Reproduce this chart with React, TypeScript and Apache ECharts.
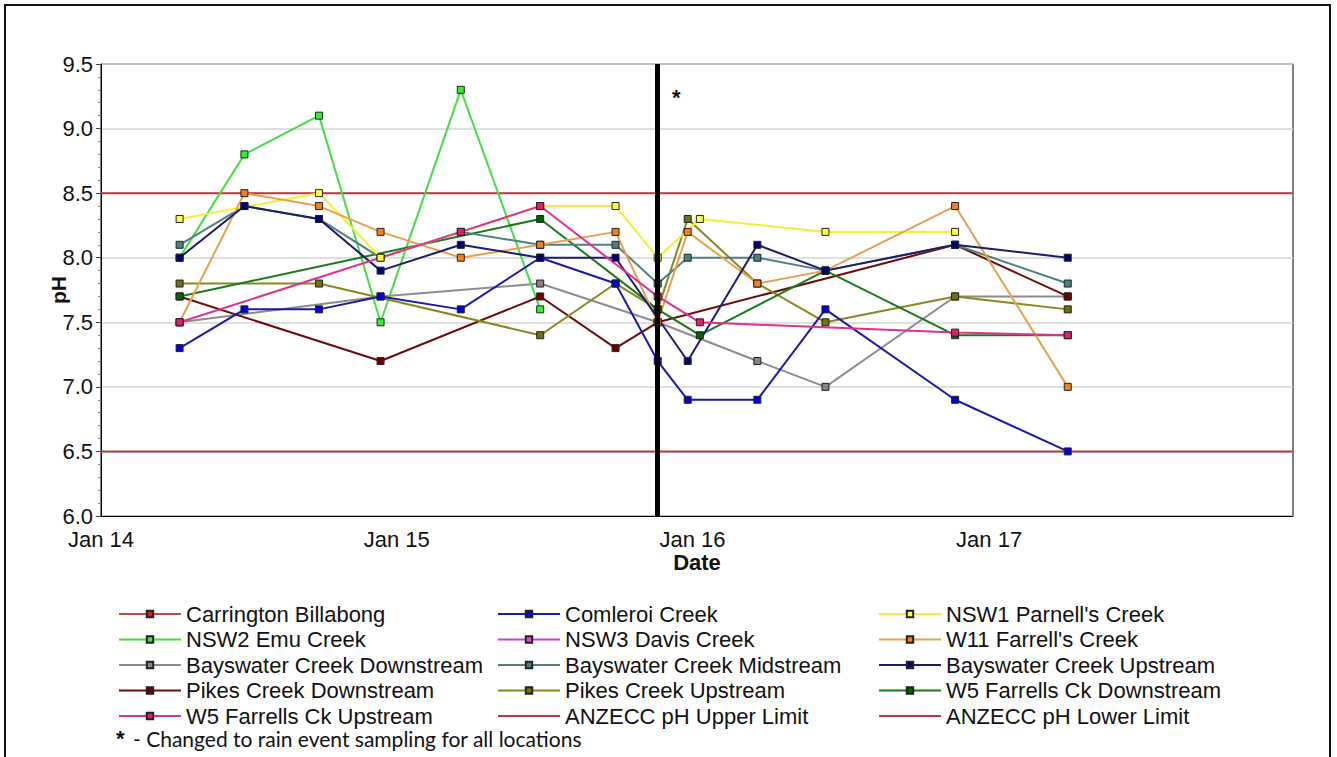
import React, { useEffect, useRef } from "react";
import * as echarts from "echarts";

// Sampling dates (x positions of the sampling rounds)
const sampleDates = [
  "2014-04-08", "2014-06-27", "2014-09-27", "2014-12-12", "2015-03-21",
  "2015-06-27", "2015-09-28", "2015-11-19", "2015-12-26", "2016-01-10",
  "2016-03-21", "2016-06-13", "2016-11-20", "2017-04-08",
];

// pH values per location (null = not sampled)
const carringtonBillabong: (number | null)[] = [];
const comleroiCreek = [7.3, 7.6, 7.6, 7.7, 7.6, 8.0, 7.8, 7.2, 6.9, null, 6.9, 7.6, 6.9, 6.5];
const nsw1Parnells = [8.3, null, 8.5, 8.0, null, 8.4, 8.4, 8.0, null, 8.3, null, 8.2, 8.2, null];
const nsw2Emu = [8.0, 8.8, 9.1, 7.5, 9.3, 7.6, null, null, null, null, null, null, null, null];
const nsw3Davis: (number | null)[] = [];
const w11Farrells = [7.5, 8.5, 8.4, 8.2, 8.0, 8.1, 8.2, 7.5, 8.2, null, 7.8, 7.9, 8.4, 7.0];
const bayswaterDown = [7.5, null, null, 7.7, null, 7.8, null, 7.5, null, null, 7.2, 7.0, 7.7, 7.7];
const bayswaterMid = [8.1, 8.4, 8.3, 8.0, 8.2, 8.1, 8.1, 7.8, 8.0, null, 8.0, 7.9, 8.1, 7.8];
const bayswaterUp = [8.0, 8.4, 8.3, 7.9, 8.1, 8.0, 8.0, null, 7.2, null, 8.1, 7.9, 8.1, 8.0];
const pikesDown = [7.7, null, null, 7.2, null, 7.7, 7.3, 7.5, null, null, null, null, 8.1, 7.7];
const pikesUp = [7.8, null, 7.8, null, null, 7.4, 7.8, 7.6, 8.3, null, 7.8, 7.5, 7.7, 7.6];
const w5Down = [7.7, null, null, null, null, 8.3, null, 7.6, null, 7.4, null, 7.9, 7.4, 7.4];
const w5Up = [7.5, null, null, null, 8.2, 8.4, null, 7.7, null, 7.5, null, null, 7.42, 7.4];

// ANZECC limits
const limitDates = ["2014-01-01", "2018-01-11"];
const upperLimit = [8.5, 8.5];
const lowerLimit = [6.5, 6.5];

const rainEventDate = "2015-11-19";

const yTicks = [6.0, 6.5, 7.0, 7.5, 8.0, 8.5, 9.0, 9.5];

const FONT = "'Liberation Sans', Arial, sans-serif";

function pairs(dates: string[], values: (number | null)[]) {
  const out: [string, number][] = [];
  values.forEach((v, i) => {
    if (v !== null && v !== undefined) out.push([dates[i], v]);
  });
  return out;
}

function locSeries(name: string, values: (number | null)[], lineColor: string, markerColor: string) {
  return {
    type: "line",
    name,
    data: pairs(sampleDates, values),
    symbol: "rect",
    symbolSize: 7,
    showAllSymbol: true,
    lineStyle: { color: lineColor, width: 2 },
    itemStyle: { color: markerColor, borderColor: "#222", borderWidth: 1 },
    emphasis: { disabled: true },
  };
}

function limitSeries(name: string, values: number[]) {
  return {
    type: "line",
    name,
    data: limitDates.map((d, i) => [d, values[i]]),
    symbol: "none",
    lineStyle: { color: "#b83b3b", width: 2 },
    itemStyle: { color: "rgba(0,0,0,0)", borderWidth: 0 },
    emphasis: { disabled: true },
    z: 1,
  };
}

export default function App() {
  const ref = useRef<HTMLDivElement>(null);

  useEffect(() => {
    if (!ref.current) return;
    const chart = echarts.init(ref.current, undefined, { renderer: "svg" });

    const legendText = { fontSize: 22, fontFamily: FONT, color: "#111", lineHeight: 22 };
    const legendBase = {
      orient: "vertical",
      top: 603,
      itemWidth: 62,
      itemHeight: 8,
      itemGap: 3.5,
      selectedMode: false,
      textStyle: legendText,
      padding: 0,
    };

    chart.setOption({
      animation: false,
      backgroundColor: "#fff",
      grid: {
        left: 101,
        top: 64,
        right: 44,
        bottom: 241,
        show: true,
        borderColor: "#000",
        borderWidth: 1,
        backgroundColor: "transparent",
      },
      xAxis: {
        type: "time",
        min: "2014-01-01",
        max: "2018-01-11",
        minInterval: 365 * 24 * 3600 * 1000,
        name: "Date",
        nameLocation: "middle",
        nameGap: 35,
        nameMoveOverlap: false,
        nameTextStyle: { fontSize: 22, fontWeight: "bold", fontFamily: FONT, color: "#111" },
        axisLine: { lineStyle: { color: "#000", width: 1 } },
        axisTick: { show: false },
        splitLine: { show: false },
        axisLabel: {
          fontSize: 22,
          fontFamily: FONT,
          color: "#111",
          margin: 12,
          hideOverlap: false,
          formatter: (val: number) => {
            const d = new Date(val);
            if (d.getMonth() === 0 && d.getDate() === 1 && d.getFullYear() < 2018) {
              return "Jan " + String(d.getFullYear()).slice(2);
            }
            return "";
          },
        },
      },
      yAxis: {
        type: "value",
        min: yTicks[0],
        max: yTicks[yTicks.length - 1],
        interval: 0.5,
        name: "pH",
        nameLocation: "middle",
        nameGap: 32,
        nameMoveOverlap: false,
        nameRotate: 90,
        nameTextStyle: { fontSize: 21, fontWeight: "bold", fontFamily: FONT, color: "#111" },
        axisLine: { show: true, lineStyle: { color: "#000", width: 1 } },
        axisTick: { show: true, length: 5, lineStyle: { color: "#444" } },
        minorTick: { show: true, splitNumber: 5, length: 3, lineStyle: { color: "#888" } },
        splitLine: { show: true, lineStyle: { color: "#d4d4d4", width: 1.5 } },
        axisLabel: {
          fontSize: 22,
          fontFamily: FONT,
          color: "#111",
          margin: 8,
          formatter: (v: number) => v.toFixed(1),
        },
      },
      legend: [
        {
          ...legendBase,
          left: 118,
          data: [
            "Carrington Billabong",
            "NSW2 Emu Creek",
            "Bayswater Creek Downstream",
            "Pikes Creek Downstream",
            "W5 Farrells Ck Upstream",
          ],
        },
        {
          ...legendBase,
          left: 497,
          data: [
            "Comleroi Creek",
            "NSW3 Davis Creek",
            "Bayswater Creek Midstream",
            "Pikes Creek Upstream",
            "ANZECC pH Upper Limit",
          ],
        },
        {
          ...legendBase,
          left: 878,
          data: [
            "NSW1 Parnell's Creek",
            "W11 Farrell's Creek",
            "Bayswater Creek Upstream",
            "W5 Farrells Ck Downstream",
            "ANZECC pH Lower Limit",
          ],
        },
      ],
      graphic: [
        {
          type: "rect",
          shape: { x: 5, y: 5, width: 1325, height: 800 },
          style: { fill: "none", stroke: "#111", lineWidth: 2 },
          silent: true,
        },
        {
          type: "text",
          x: 672,
          y: 86,
          style: { text: "*", fontSize: 22, fontWeight: "bold", fontFamily: FONT, fill: "#111" },
        },
        {
          type: "text",
          x: 116,
          y: 727,
          style: {
            text: "*",
            fontSize: 22,
            fontWeight: "bold",
            fontFamily: FONT,
            fill: "#111",
          },
        },
        {
          type: "text",
          x: 133,
          y: 728,
          style: {
            text: "- Changed to rain event sampling for all locations",
            fontSize: 21,
            fontFamily: "Lato, 'Open Sans', sans-serif",
            fill: "#111",
          },
        },
      ],
      series: [
        limitSeries("ANZECC pH Upper Limit", upperLimit),
        limitSeries("ANZECC pH Lower Limit", lowerLimit),
        locSeries("Carrington Billabong", carringtonBillabong, "#c04848", "#e01818"),
        locSeries("NSW3 Davis Creek", nsw3Davis, "#cc44cc", "#e040e0"),
        locSeries("Bayswater Creek Downstream", bayswaterDown, "#8c8c8c", "#858585"),
        locSeries("NSW2 Emu Creek", nsw2Emu, "#44dd44", "#33ee33"),
        locSeries("Pikes Creek Downstream", pikesDown, "#6b0c0c", "#700000"),
        locSeries("Pikes Creek Upstream", pikesUp, "#888820", "#707010"),
        locSeries("W5 Farrells Ck Downstream", w5Down, "#1a7a1a", "#006400"),
        locSeries("Comleroi Creek", comleroiCreek, "#1a1aa8", "#0000e0"),
        locSeries("Bayswater Creek Midstream", bayswaterMid, "#4f8080", "#4a8080"),
        locSeries("NSW1 Parnell's Creek", nsw1Parnells, "#f2f032", "#ffff40"),
        locSeries("W11 Farrell's Creek", w11Farrells, "#e8a050", "#f08020"),
        locSeries("Bayswater Creek Upstream", bayswaterUp, "#1c1c6c", "#000070"),
        locSeries("W5 Farrells Ck Upstream", w5Up, "#e03090", "#e0206a"),
        {
          type: "line",
          name: "rain-event",
          data: [],
          z: 20,
          markLine: {
            silent: true,
            symbol: "none",
            label: { show: false },
            lineStyle: { color: "#000", width: 5, type: "solid" },
            data: [{ xAxis: rainEventDate }],
          },
        },
      ],
    });

    return () => chart.dispose();
  }, []);

  return (
    <div
      ref={ref}
      style={{ position: "fixed", left: 0, top: 0, width: 1337, height: 757, background: "#fff" }}
    />
  );
}
